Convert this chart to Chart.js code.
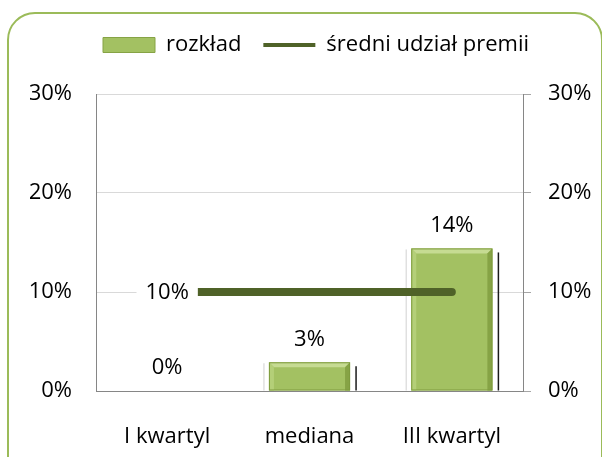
<!DOCTYPE html>
<html>
<head>
<meta charset="utf-8">
<script src="https://cdn.jsdelivr.net/npm/chart.js@4.4.1/dist/chart.umd.min.js"></script>
<style>
  html, body { margin: 0; padding: 0; background: #fff; }
  #wrap { position: relative; width: 602px; height: 457px; overflow: hidden; }
  #frame { position: absolute; left: 7px; top: 12px; width: 596px; height: 500px;
           border: 2px solid #9BBB59; border-radius: 28px; box-sizing: border-box; }
  canvas { position: absolute; left: 0; top: 0; }
</style>
</head>
<body>
<div id="wrap">
  <div id="frame"></div>
  <canvas id="c" width="602" height="457"></canvas>
</div>
<script>
// dane
const categories = ['I kwartyl', 'mediana', 'III kwartyl'];
const rozklad = [0, 0.029, 0.144];
const sredniUdzial = [0.10, 0.10, 0.10];
const yTicks = [0, 0.1, 0.2, 0.3];

const FONT = { family: '"Open Sans", sans-serif', size: 22 };
const pct = (v) => Math.round(v * 100) + '%';
const PAD_TOP = 12;       // odstęp nad legendą
const PLOT_TOP = 94;      // górna krawędź obszaru wykresu

// etykiety danych + cień/faza słupków (jak w Excelu)
const decorPlugin = {
  id: 'decor',
  beforeInit(chart) {
    const legend = chart.legend;
    if (!legend) return;
    const fit = legend.fit;
    legend.fit = function () { fit.call(this); this.height = PLOT_TOP - PAD_TOP; };
  },
  afterDatasetDraw(chart, args) {
    if (args.index !== 0) return;
    const c = chart.ctx;
    const b = 5;
    args.meta.data.forEach((el) => {
      const h = el.base - el.y;
      if (h < 1) return;
      const l = el.x - el.width / 2, r = el.x + el.width / 2, t = el.y, bot = el.base;
      c.save();
      // cień
      c.strokeStyle = '#E0E0E0'; c.lineWidth = 1.5;
      c.beginPath(); c.moveTo(l - 5, t + 1); c.lineTo(l - 5, bot); c.stroke();
      c.strokeStyle = '#1A1A1A'; c.lineWidth = 1.5;
      c.beginPath(); c.moveTo(r + 6, t + 4); c.lineTo(r + 6, bot); c.stroke();
      // faza
      const bb = Math.min(b, h / 2);
      c.fillStyle = '#C6DB92';
      c.beginPath(); c.moveTo(l, t); c.lineTo(r, t); c.lineTo(r - bb, t + bb); c.lineTo(l + bb, t + bb); c.closePath(); c.fill();
      c.fillStyle = '#B4CF78';
      c.beginPath(); c.moveTo(l, t); c.lineTo(l + bb, t + bb); c.lineTo(l + bb, bot); c.lineTo(l, bot); c.closePath(); c.fill();
      c.fillStyle = '#86A345';
      c.beginPath(); c.moveTo(r, t); c.lineTo(r - bb, t + bb); c.lineTo(r - bb, bot); c.lineTo(r, bot); c.closePath(); c.fill();
      c.strokeStyle = '#7E9B3E'; c.lineWidth = 1;
      c.strokeRect(l + 0.5, t + 0.5, r - l - 1, bot - t - 1);
      c.restore();
    });
  },
  afterDatasetsDraw(chart) {
    const c = chart.ctx;
    c.save();
    c.font = `${FONT.size}px ${FONT.family}`;
    c.textAlign = 'center';
    c.textBaseline = 'middle';
    c.fillStyle = '#000';
    chart.getDatasetMeta(0).data.forEach((el, i) => {
      c.fillText(pct(rozklad[i]), el.x, el.y - 23);
    });
    const p = chart.getDatasetMeta(1).data[0];
    const txt = pct(sredniUdzial[0]);
    const w = c.measureText(txt).width + 18;
    c.fillStyle = '#fff';
    c.fillRect(p.x - w / 2, p.y - 13, w, 26);
    c.fillStyle = '#000';
    c.fillText(txt, p.x, p.y + 1);
    c.restore();
  },
};

new Chart(document.getElementById('c'), {
  data: {
    labels: categories,
    datasets: [
      {
        type: 'bar',
        label: 'rozkład',
        data: rozklad,
        yAxisID: 'y',
        backgroundColor: '#A3C162',
        borderWidth: 0,
        categoryPercentage: 1,
        barPercentage: 0.57,
        order: 2,
      },
      {
        type: 'line',
        label: 'średni udział premii',
        data: sredniUdzial,
        yAxisID: 'y',
        borderColor: '#4F6228',
        backgroundColor: '#4F6228',
        borderWidth: 8,
        borderCapStyle: 'round',
        pointRadius: 0,
        pointHoverRadius: 0,
        tension: 0,
        order: 1,
      },
    ],
  },
  options: {
    responsive: false,
    animation: false,
    layout: { padding: { left: 30, top: PAD_TOP, right: 0, bottom: 0 } },
    plugins: {
      tooltip: { enabled: false },
      legend: {
        position: 'top',
        labels: {
          font: FONT,
          color: '#000',
          usePointStyle: true,
          pointStyleWidth: 52,
          boxHeight: 15,
          padding: 22,
          sort: (a, b) => a.datasetIndex - b.datasetIndex,
          generateLabels: (chart) => chart.data.datasets.map((ds, i) => ({
            text: ds.label,
            datasetIndex: i,
            fillStyle: i === 0 ? '#A3C162' : '#4F6228',
            strokeStyle: i === 0 ? '#86A345' : '#4F6228',
            lineWidth: i === 0 ? 1 : 4,
            pointStyle: i === 0 ? 'rect' : 'line',
            fontColor: '#000',
            hidden: false,
          })),
        },
      },
    },
    scales: {
      x: {
        grid: { display: false },
        border: { color: '#868686' },
        ticks: { font: FONT, color: '#000', padding: 25 },
        afterFit: (s) => { s.height = 66; },
      },
      y: {
        position: 'left',
        min: 0, max: 0.3,
        afterBuildTicks: (s) => { s.ticks = yTicks.map((v) => ({ value: v })); },
        ticks: { font: FONT, color: '#000', padding: 24, callback: pct },
        grid: { color: '#D9D9D9', tickLength: 0 },
        border: { color: '#868686' },
        afterFit: (s) => { s.width = 66; },
      },
      y2: {
        position: 'right',
        min: 0, max: 0.3,
        afterBuildTicks: (s) => { s.ticks = yTicks.map((v) => ({ value: v })); },
        ticks: { font: FONT, color: '#000', padding: 17, callback: pct },
        grid: { drawOnChartArea: false, tickLength: 8, color: '#A6A6A6' },
        border: { color: '#868686' },
        afterFit: (s) => { s.width = 79; },
      },
    },
  },
  plugins: [decorPlugin],
});
</script>
</body>
</html>
